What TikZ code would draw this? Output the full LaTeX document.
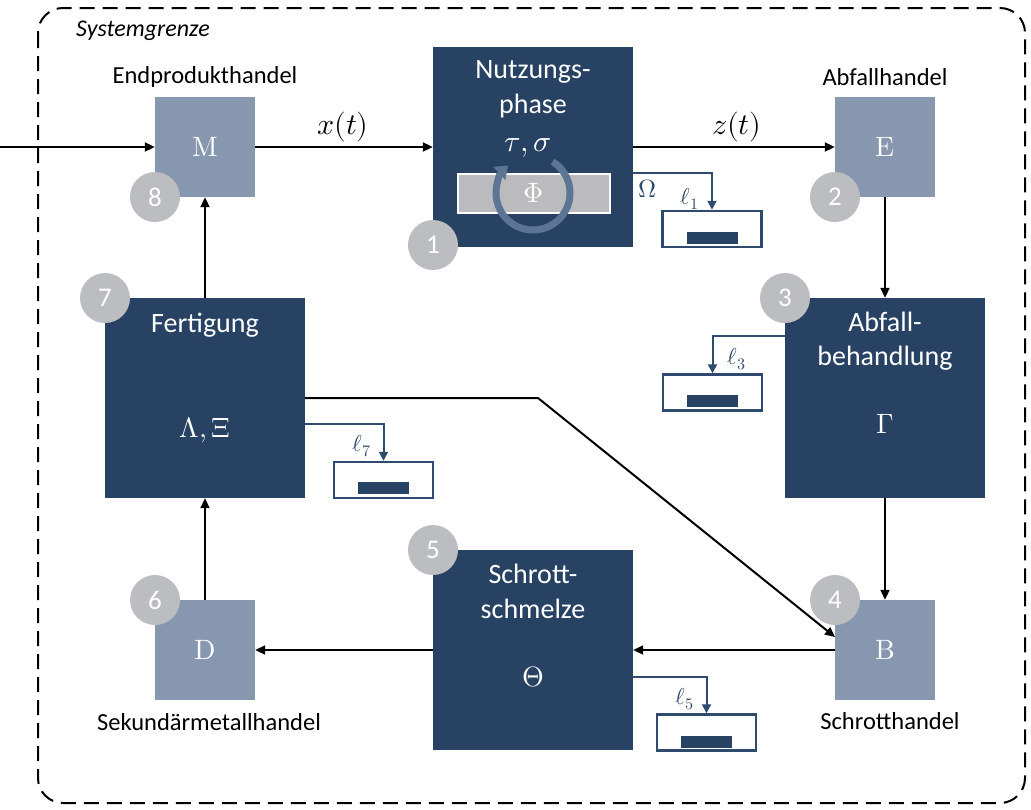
\documentclass[tikz,border=0pt]{standalone}
\usepackage{fontspec}
\usepackage{unicode-math}
\setmainfont{Carlito}
\setmathfont{Latin Modern Math}
\usetikzlibrary{arrows.meta}
\definecolor{dkblue}{HTML}{284263}
\definecolor{ltblue}{HTML}{8797B0}
\definecolor{numgray}{HTML}{BCBDC0}
\definecolor{lossblue}{HTML}{2E4A6E}
\definecolor{cyc}{HTML}{5D7595}
\definecolor{bargray}{HTML}{BBBBBD}
\begin{document}
\begin{tikzpicture}[x=1pt,y=-1pt,
 procbox/.style={fill=dkblue, minimum width=200pt, minimum height=200pt, inner sep=0pt},
 tradebox/.style={fill=ltblue, minimum width=100pt, minimum height=100pt, inner sep=0pt, text=white, font=\fontsize{28}{32}\selectfont},
 boxtext/.style={text=white, font=\fontsize{28}{34}\selectfont, inner sep=0pt},
 greektext/.style={text=white, font=\fontsize{28}{34}\selectfont, inner sep=0pt},
 num/.style={circle, fill=numgray, minimum size=50pt, inner sep=0pt, text=white, font=\fontsize{27}{30}\selectfont},
 flow/.style={line width=2pt, -{Triangle[length=10pt,width=9pt]}},
 lossline/.style={draw=lossblue, line width=2pt, -{Triangle[length=9pt,width=9pt]}},
 lossbox/.style={draw=lossblue, line width=2.5pt, fill=white, minimum width=99pt, minimum height=36pt, inner sep=0pt},
 lossbar/.style={fill=dkblue, minimum width=51pt, minimum height=12pt, inner sep=0pt},
 outlabel/.style={font=\fontsize{24.5}{28}\selectfont, inner sep=0pt},
 losslabel/.style={text=lossblue, font=\fontsize{23}{27}\selectfont, inner sep=0pt},
 mathlabel/.style={font=\fontsize{30}{34}\selectfont, inner sep=0pt},
]
\useasboundingbox (0,0) rectangle (1031,809);
% system boundary
\draw[dash pattern=on 15pt off 8pt, line width=2pt, rounded corners=25pt] (38,8) rectangle (1025,803);
\node[font=\fontsize{24}{26}\selectfont\itshape, inner sep=0pt] (sys) at (143,31) {Systemgrenze};

% process boxes
\node[procbox] (N) at (533,147) {};
\node[procbox] (A) at (885,398) {};
\node[procbox] (S) at (533,650) {};
\node[procbox] (F) at (205,398) {};

% trade boxes
\node[tradebox] (M) at (205,147) {$\symup{M}$};
\node[tradebox] (E) at (885,147) {$\symup{E}$};
\node[tradebox] (B) at (885,650) {$\symup{B}$};
\node[tradebox] (D) at (205,650) {$\symup{D}$};

% outer labels
\node[outlabel] (lM) at (205,77) {Endprodukthandel};
\node[outlabel] (lE) at (885,77) {Abfallhandel};
\node[outlabel] (lB) at (890,721) {Schrotthandel};
\node[outlabel] (lD) at (209,722) {Sekundärmetallhandel};

% Nutzungsphase content
\node[boxtext] (t1a) at (533,72) {Nutzungs-};
\node[boxtext] (t1b) at (533,106) {phase};
\node[boxtext, font=\fontsize{30}{34}\selectfont] (t1c) at (528,148) {$\tau,\sigma$};
\node[fill=bargray, draw=white, line width=2pt, minimum width=152pt, minimum height=39pt, inner sep=0pt] (phibar) at (533.5,193) {};
\node[text=white, font=\fontsize{28}{32}\selectfont, inner sep=0pt] (phi) at (533.5,193) {$\Phi$};
\draw[cyc, line width=7pt, -{Triangle[length=12pt,width=17pt]}] ([shift={(-58:37)}]533,193) arc[start angle=-58, end angle=228, radius=37];

% Abfallbehandlung content
\node[boxtext] (t3a) at (885,322) {Abfall-};
\node[boxtext] (t3b) at (885,358) {behandlung};
\node[greektext] (t3c) at (885,424) {$\Gamma$};

% Schrottschmelze content
\node[boxtext] (t5a) at (533,574) {Schrott-};
\node[boxtext] (t5b) at (533,609) {schmelze};
\node[greektext] (t5c) at (533,677) {$\Theta$};

% Fertigung content
\node[boxtext] (t7a) at (205,325) {Fertigung};
\node[greektext] (t7b) at (205,430) {$\Lambda,\Xi$};

% main flows
\coordinate (in) at (0,147);
\draw[flow] (in) -- (M.west);
\draw[flow] (M.east) -- (N.west);
\node[mathlabel] (xt) at (343,127) {$x(t)$};
\draw[flow] (N.east) -- (E.west);
\node[mathlabel] (zt) at (737,127) {$z(t)$};
\draw[flow] (E.south) -- (A.north);
\draw[flow] (A.south) -- (B.north);
\draw[flow] (B.west) -- (S.east);
\draw[flow] (S.west) -- (D.east);
\draw[flow] (D.north) -- (F.south);
\draw[flow] (F.north) -- (M.south);
\coordinate (bend) at (538,398);
\coordinate (Bin) at (835,637);
\draw[flow] (F.east) -- (bend) -- (Bin);

% losses
\node[lossbox] (L1) at (712,229) {};
\node[lossbar] (L1b) at (712.5,238) {};
\coordinate (L1s) at (633,173);
\draw[lossline] (L1s) -- (712,173) -- (L1.north);
\node[text=lossblue, font=\fontsize{25}{29}\selectfont, inner sep=0pt] (Om) at (648,189) {$\Omega$};
\node[losslabel] (l1) at (690,199) {$\ell_1$};

\node[lossbox] (L3) at (712.5,392.5) {};
\node[lossbar] (L3b) at (712.5,401) {};
\coordinate (L3s) at (785,336);
\draw[lossline] (L3s) -- (712.5,336) -- (L3.north);
\node[losslabel] (l3) at (737,359) {$\ell_3$};

\node[lossbox] (L7) at (383.5,480) {};
\node[lossbar] (L7b) at (383.5,488) {};
\coordinate (L7s) at (305,424);
\draw[lossline] (L7s) -- (383.5,424) -- (L7.north);
\node[losslabel] (l7) at (362,446) {$\ell_7$};

\node[lossbox] (L5) at (706.5,732.5) {};
\node[lossbar] (L5b) at (706.5,741.5) {};
\coordinate (L5s) at (633,677);
\draw[lossline] (L5s) -- (706.5,677) -- (L5.north);
\node[losslabel] (l5) at (685,699) {$\ell_5$};

% numbered circles
\node[num] (n1) at (433,245) {1};
\node[num] (n2) at (835,197) {2};
\node[num] (n3) at (785,298) {3};
\node[num] (n4) at (835,600) {4};
\node[num] (n5) at (433,550) {5};
\node[num] (n6) at (155,600) {6};
\node[num] (n7) at (105,298) {7};
\node[num] (n8) at (155,197) {8};
\end{tikzpicture}
\end{document}
